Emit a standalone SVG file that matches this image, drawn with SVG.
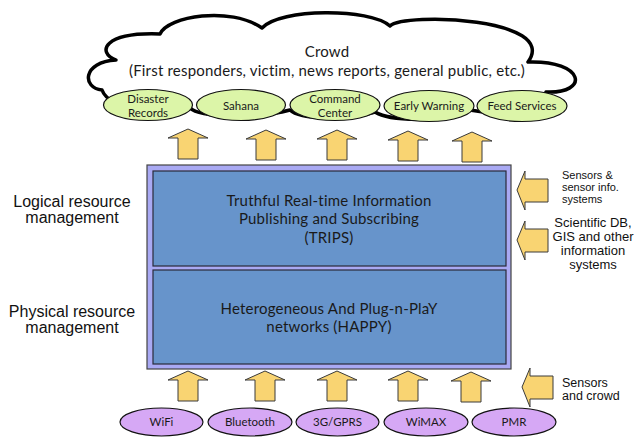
<svg xmlns="http://www.w3.org/2000/svg" width="635" height="439" viewBox="0 0 635 439">
<style>
.cal{font-family:Lato,"Open Sans","Liberation Sans",sans-serif;fill:#1a1a1a}
.ari{font-family:"Liberation Sans",Arial,sans-serif;fill:#111}
.arw{fill:#f9d472;stroke:#3a3a3a;stroke-width:1}
.gov{fill:#dcf5a8;stroke:#111;stroke-width:1.2}
.pov{fill:#d6a8f5;stroke:#111;stroke-width:1.2}
.box{fill:#6794cb;stroke:#2a2a3a;stroke-width:1.2}
</style>
<defs>
<path id="up" d="M0,0 L20,9 L10,9 L10,30 L-10,30 L-10,9 L-20,9 Z"/>
<path id="lt" d="M0,0 L8,-19 L8,-11 L31,-11 L31,12 L8,12 L8,20 Z"/>
</defs>
<g id="cloud">
<path d="M102,90 C82,88 82,62 116,60 C96,52 104,32 160,34 C168,16 230,6 262,28 C280,8 370,8 390,26 C405,12 560,18 528,62 C585,60 590,94 546,92 C540,112 500,116 470,110 C450,122 390,122 375,112 C350,120 300,120 290,110 C260,118 200,118 190,108 C170,114 110,112 102,90 Z" fill="#fff" stroke="#000" stroke-width="3.5" stroke-linejoin="round"/>
<text class="cal" x="327" y="57" font-size="15" letter-spacing="0.2" text-anchor="middle">Crowd</text>
<text class="cal" x="327" y="76" font-size="15" letter-spacing="0.2" text-anchor="middle">(First responders, victim, news reports, general public, etc.)</text>
</g>
<g id="disaster-records"><ellipse class="gov" cx="148" cy="105" rx="44.5" ry="15.5"/><text class="cal" x="148" y="103" font-size="11.5" text-anchor="middle">Disaster</text><text class="cal" x="148" y="117" font-size="11.5" text-anchor="middle">Records</text></g>
<g id="sahana"><ellipse class="gov" cx="241" cy="105" rx="44.5" ry="15.5"/><text class="cal" x="241" y="110" font-size="11.5" text-anchor="middle">Sahana</text></g>
<g id="command-center"><ellipse class="gov" cx="335" cy="105" rx="45" ry="15.5"/><text class="cal" x="335" y="103" font-size="11.5" text-anchor="middle">Command</text><text class="cal" x="335" y="117" font-size="11.5" text-anchor="middle">Center</text></g>
<g id="early-warning"><ellipse class="gov" cx="429" cy="106" rx="45" ry="15.5"/><text class="cal" x="429" y="110" font-size="11.5" text-anchor="middle">Early Warning</text></g>
<g id="feed-services"><ellipse class="gov" cx="522" cy="106" rx="45" ry="15.5"/><text class="cal" x="522" y="110" font-size="11.5" text-anchor="middle">Feed Services</text></g>
<g id="frame"><rect x="147" y="165" width="364" height="204" fill="#a9a9f3" stroke="#444" stroke-width="1.2"/></g>
<g id="trips"><rect class="box" x="153" y="171" width="353" height="95"/>
<text class="cal" x="329" y="206" font-size="15" letter-spacing="0.2" text-anchor="middle">Truthful Real-time Information</text>
<text class="cal" x="329" y="224" font-size="15" letter-spacing="0.2" text-anchor="middle">Publishing and Subscribing</text>
<text class="cal" x="329" y="243" font-size="15" letter-spacing="0.2" text-anchor="middle">(TRIPS)</text></g>
<g id="happy"><rect class="box" x="153" y="270" width="353" height="94"/>
<text class="cal" x="329" y="314" font-size="15" letter-spacing="0.2" text-anchor="middle">Heterogeneous And Plug-n-PlaY</text>
<text class="cal" x="329" y="332" font-size="15" letter-spacing="0.2" text-anchor="middle">networks (HAPPY)</text></g>
<g id="wifi"><ellipse class="pov" cx="161.5" cy="422" rx="41.5" ry="14"/><text class="cal" x="161.5" y="426" font-size="11.5" text-anchor="middle">WiFi</text></g>
<g id="bluetooth"><ellipse class="pov" cx="250" cy="422" rx="42" ry="14"/><text class="cal" x="250" y="426" font-size="11.5" text-anchor="middle">Bluetooth</text></g>
<g id="gprs"><ellipse class="pov" cx="337.5" cy="422" rx="41.5" ry="14"/><text class="cal" x="337.5" y="426" font-size="11.5" text-anchor="middle">3G/GPRS</text></g>
<g id="wimax"><ellipse class="pov" cx="426" cy="422" rx="42" ry="14"/><text class="cal" x="426" y="426" font-size="11.5" text-anchor="middle">WiMAX</text></g>
<g id="pmr"><ellipse class="pov" cx="514" cy="422" rx="42" ry="14"/><text class="cal" x="514" y="426" font-size="11.5" text-anchor="middle">PMR</text></g>
<g id="labels">
<text class="ari" x="72" y="207" font-size="16" text-anchor="middle">Logical resource</text>
<text class="ari" x="72" y="223" font-size="16" text-anchor="middle">management</text>
<text class="ari" x="72" y="317" font-size="16" text-anchor="middle">Physical resource</text>
<text class="ari" x="72" y="333" font-size="16" text-anchor="middle">management</text>
<text class="ari" x="562" y="179" font-size="11">Sensors &amp;</text>
<text class="ari" x="562" y="191" font-size="11">sensor info.</text>
<text class="ari" x="562" y="203" font-size="11">systems</text>
<text class="ari" x="593" y="227" font-size="13" text-anchor="middle">Scientific DB,</text>
<text class="ari" x="593" y="241" font-size="13" text-anchor="middle">GIS and other</text>
<text class="ari" x="593" y="255" font-size="13" text-anchor="middle">information</text>
<text class="ari" x="593" y="269" font-size="13" text-anchor="middle">systems</text>
<text class="ari" x="562" y="387" font-size="12.5">Sensors</text>
<text class="ari" x="562" y="400" font-size="12.5">and crowd</text>
</g>
<g id="connectors">
<use href="#up" class="arw" x="188" y="129"/>
<use href="#up" class="arw" x="266" y="130"/>
<use href="#up" class="arw" x="337" y="130"/>
<use href="#up" class="arw" x="408" y="131"/>
<use href="#up" class="arw" x="472" y="132"/>
<use href="#up" class="arw" x="188" y="371"/>
<use href="#up" class="arw" x="265" y="371"/>
<use href="#up" class="arw" x="337" y="371"/>
<use href="#up" class="arw" x="408" y="371"/>
<use href="#up" class="arw" x="471" y="372"/>
<use href="#lt" class="arw" x="517" y="190"/>
<use href="#lt" class="arw" x="517" y="240"/>
<use href="#lt" class="arw" x="522" y="387"/>
</g>
</svg>
